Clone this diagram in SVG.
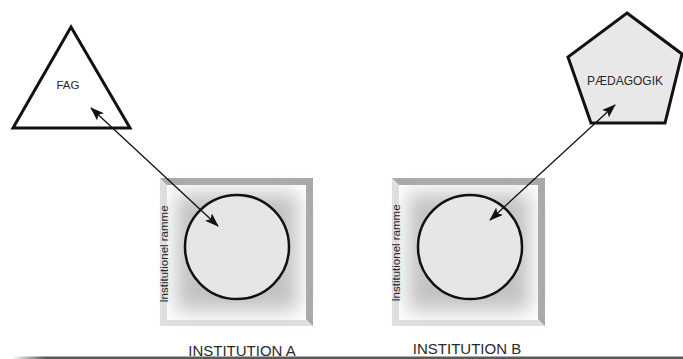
<svg xmlns="http://www.w3.org/2000/svg" width="683" height="359" viewBox="0 0 683 359">
  <defs>
    <style>
      .lbl { font-family: "Liberation Sans", Arial, sans-serif; fill: #2a2a2a; text-anchor: middle; }
      .shape { stroke: #111; stroke-width: 3; stroke-linejoin: miter; }
      .circ { fill: #e6e6e6; stroke: #111; stroke-width: 2.5; }
      .conn { stroke: #111; stroke-width: 1.3; fill: none; marker-start: url(#ah); marker-end: url(#ah); }
      .frameL { fill: #e0e0e0; }
      .frameD { fill: #a8a8a8; }
    </style>
    <marker id="ah" viewBox="0 0 14 10" refX="13" refY="5" markerWidth="14" markerHeight="10" markerUnits="userSpaceOnUse" orient="auto-start-reverse">
      <path d="M0,0 L14,5 L0,10 L3,5 Z" fill="#111"/>
    </marker>
    <filter id="blur" x="-30%" y="-30%" width="160%" height="160%">
      <feGaussianBlur stdDeviation="10"/>
    </filter>
    <linearGradient id="lineGrad" x1="0" y1="0" x2="1" y2="0">
      <stop offset="0" stop-color="#5a5a5a" stop-opacity="0"/>
      <stop offset="0.05" stop-color="#5a5a5a" stop-opacity="1"/>
      <stop offset="1" stop-color="#5a5a5a" stop-opacity="1"/>
    </linearGradient>
  </defs>

  <rect width="683" height="359" fill="#ffffff"/>

  <g id="fag">
    <polygon class="shape" points="71,27 13,128 130,128" fill="#ffffff"/>
    <text class="lbl" x="68" y="89" font-size="11.5">FAG</text>
  </g>

  <g id="paedagogik">
    <polygon class="shape" points="627,13 682,54 665,123 591,123 568,57" fill="#e8e8e8"/>
    <text class="lbl" x="625" y="85" font-size="12">PÆDAGOGIK</text>
  </g>

  <g id="institution-a">
    <rect class="frameL" x="160" y="178" width="153" height="148"/>
    <polygon class="frameD" points="160,178 313,178 313,326 306,319 306,185 167,185"/>
    <rect x="167" y="185" width="139" height="135" fill="#ffffff"/>
    <rect x="176" y="193" width="122" height="118" fill="#c2c2c2" filter="url(#blur)"/>
    <circle class="circ" cx="237" cy="247" r="52"/>
    <text class="lbl" x="0" y="0" font-size="11.5" transform="translate(168,254) rotate(-90)">Institutionel ramme</text>
    <text class="lbl" x="242" y="356" font-size="15" fill="#1a1a1a">INSTITUTION A</text>
  </g>

  <g id="institution-b">
    <rect class="frameL" x="392" y="178" width="153" height="148"/>
    <polygon class="frameD" points="392,178 545,178 545,326 538,319 538,185 399,185"/>
    <rect x="399" y="185" width="139" height="135" fill="#ffffff"/>
    <rect x="408" y="193" width="122" height="118" fill="#c2c2c2" filter="url(#blur)"/>
    <circle class="circ" cx="470" cy="247" r="52"/>
    <text class="lbl" x="0" y="0" font-size="11.5" transform="translate(400,253) rotate(-90)">Institutionel ramme</text>
    <text class="lbl" x="467" y="354" font-size="15" fill="#1a1a1a">INSTITUTION B</text>
  </g>

  <g id="connectors">
    <line class="conn" x1="91" y1="108" x2="218" y2="226"/>
    <line class="conn" x1="615" y1="105" x2="490" y2="220"/>
  </g>

  <rect x="12" y="356.5" width="671" height="2.5" fill="url(#lineGrad)"/>
</svg>
